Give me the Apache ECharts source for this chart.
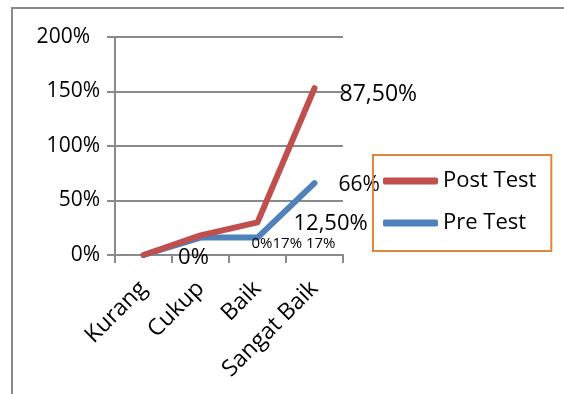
<!DOCTYPE html>
<html>
<head>
<meta charset="utf-8">
<script src="https://cdn.jsdelivr.net/npm/echarts@6/dist/echarts.min.js"></script>
<style>
	html, body { margin: 0; padding: 0; background: #fff; }
	#chart { width: 564px; height: 394px; }
</style>
</head>
<body>
<div id="chart"></div>
<script>
// kategori dan nilai
var categories = ['Kurang', 'Cukup', 'Baik', 'Sangat Baik'];
var postTest = [0, 18, 30, 153];
var preTest = [0, 16, 16, 66];
var postLabels = ['', '0%', '12,50%', '87,50%'];
var preLabels = ['', '', '0%17% 17%', '66%'];
var yTicks = [0, 50, 100, 150, 200];

var FONT = 'Open Sans';
var gray = '#8a8a8a';

// posisi label per titik (gaya saja, bukan data)
var postLabelStyle = [
	{},
	{ position: 'inside', offset: [-7, 22], fontSize: 22 },
	{ position: 'right', distance: 36, offset: [0, 1], fontSize: 22 },
	{ position: 'right', distance: 25, offset: [0, 6], fontSize: 23 }
];
var preLabelStyle = [
	{},
	{},
	{ position: 'inside', offset: [36, 6], fontSize: 15 },
	{ position: 'right', distance: 24, offset: [0, 2], fontSize: 21 }
];

function buildData(values, labels, styles) {
	return values.map(function (v, i) {
		var lb = Object.assign({ show: labels[i] !== '', formatter: labels[i] }, styles[i]);
		return { value: v, label: lb };
	});
}

var myChart = echarts.init(document.getElementById('chart'));
var option = {
	animation: false,
	textStyle: { fontFamily: FONT, color: '#000' },
	graphic: [{
		type: 'rect',
		shape: { x: 12, y: 8, width: 700, height: 500 },
		style: { fill: 'none', stroke: gray, lineWidth: 2 },
		silent: true
	}],
	grid: { left: 115, right: 221, top: 37, bottom: 139, containLabel: false },
	legend: {
		data: ['Post Test', 'Pre Test'],
		orient: 'vertical',
		left: 373,
		top: 155,
		padding: [15, 15, 17, 10],
		itemGap: 20,
		itemWidth: 55,
		itemHeight: 7,
		icon: 'roundRect',
		borderColor: '#E0883A',
		borderWidth: 2,
		textStyle: { fontFamily: FONT, fontSize: 22, color: '#000' }
	},
	xAxis: {
		type: 'category',
		data: categories,
		boundaryGap: true,
		axisLine: { lineStyle: { color: gray, width: 2 } },
		axisTick: { show: true, length: 8, lineStyle: { color: gray, width: 2 } },
		axisLabel: { rotate: 45, margin: 30, fontSize: 23, color: '#000', fontFamily: FONT, interval: 0 }
	},
	yAxis: {
		type: 'value',
		min: yTicks[0],
		max: yTicks[yTicks.length - 1],
		interval: 50,
		axisLine: { show: true, lineStyle: { color: gray, width: 2 } },
		axisTick: { show: true, length: 8, lineStyle: { color: gray, width: 2 } },
		splitLine: { lineStyle: { color: gray, width: 2 } },
		axisLabel: {
			margin: 15,
			fontSize: 21,
			color: '#000',
			fontFamily: FONT,
			formatter: function (v) {
				if (v === 200) return '{t|' + v + '%}';
				return v + '%';
			},
			rich: { t: { fontSize: 21, fontFamily: FONT, color: '#000', padding: [0, 10, 0, 0] } }
		}
	},
	series: [{
		name: 'Pre Test',
		type: 'line',
		data: buildData(preTest, preLabels, preLabelStyle),
		color: '#4F81BD',
		symbol: 'circle',
		symbolSize: 0,
		lineStyle: { width: 6, cap: 'round', join: 'round' },
		label: { color: '#000', fontFamily: FONT },
		z: 2
	}, {
		name: 'Post Test',
		type: 'line',
		data: buildData(postTest, postLabels, postLabelStyle),
		color: '#C0504D',
		symbol: 'circle',
		symbolSize: 0,
		lineStyle: { width: 6, cap: 'round', join: 'round' },
		label: { color: '#000', fontFamily: FONT },
		z: 3
	}]
};
myChart.setOption(option);
</script>
</body>
</html>
